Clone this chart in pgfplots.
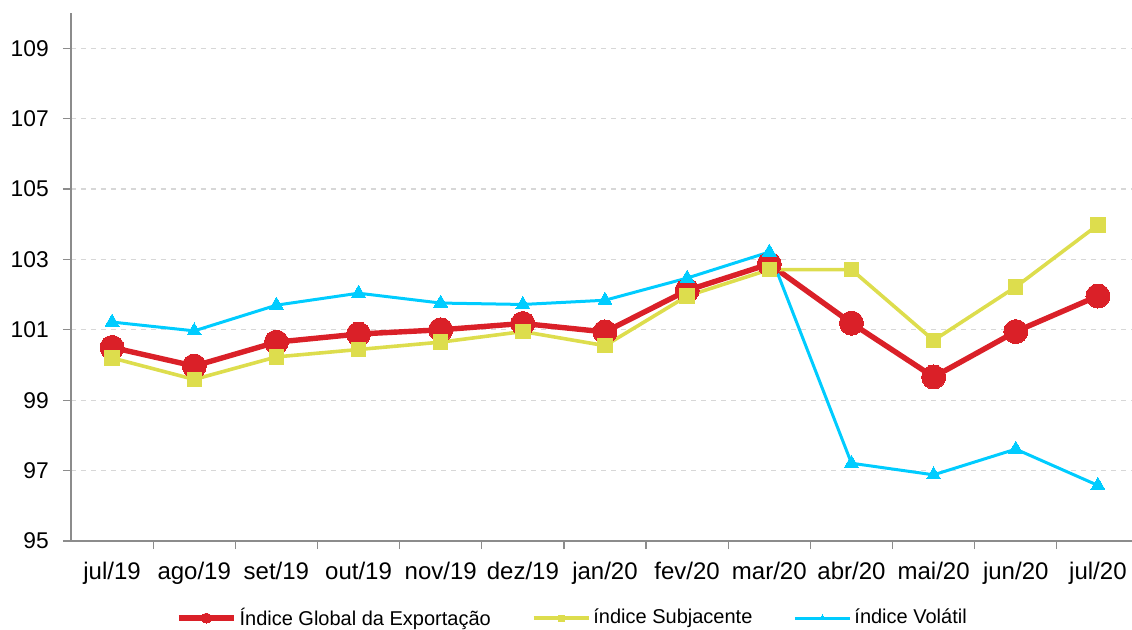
\documentclass[border=0pt]{standalone}
\usepackage{fontspec}
\setmainfont{Liberation Sans}
\usepackage{pgfplots}
\pgfplotsset{compat=1.18}
\definecolor{cred}{RGB}{218,32,40}
\definecolor{cyel}{RGB}{221,221,77}
\definecolor{cblu}{RGB}{0,204,255}
\definecolor{caxis}{RGB}{140,140,140}
\definecolor{cgrid}{RGB}{215,215,215}
\begin{document}
\begin{tikzpicture}
\path[use as bounding box] (-35.5pt,-44pt) rectangle (530.5pt,270.5pt);
\begin{axis}[
  at={(0pt,0pt)}, anchor=south west,
  scale only axis, width=534pt, height=264pt,
  xmin=-0.5, xmax=12.5, ymin=95, ymax=110,
  axis lines*=left,
  axis line style={draw=caxis, line width=0.7pt},
  tick align=outside,
  major tick length=4pt,
  tick style={draw=caxis, line width=0.6pt},
  ytick={95,97,...,109},
  ymajorgrids,
  grid style={draw=cgrid, dash pattern=on 2.5pt off 2.5pt, line width=0.6pt},
  xtick={0.5,1.5,...,11.5},
  xticklabels={},
  extra x ticks={0,1,...,12},
  extra x tick labels={jul/19,ago/19,set/19,out/19,nov/19,dez/19,jan/20,fev/20,mar/20,abr/20,mai/20,jun/20,jul/20},
  extra x tick style={major tick length=0pt, xticklabel style={yshift=-7pt, font=\fontsize{12}{14}\selectfont}},
  tick label style={font=\fontsize{11.4}{13}\selectfont, text=black},
  yticklabel style={xshift=-3.6pt},
  /pgf/number format/assume math mode=true,
  legend style={at={(0.47,-0.146)}, anchor=center, draw=none, fill=none,
    font=\fontsize{10}{12}\selectfont, legend columns=3,
    /tikz/every even column/.append style={column sep=19pt},
    nodes={inner sep=1.5pt}},
  legend image code/.code={\draw[mark repeat=2, mark phase=2, #1, /tikz/every mark/.append style={scale=0.42}] plot coordinates {(0pt,0pt) (13.75pt,0pt) (27.5pt,0pt)};},
]
\addplot[color=cred, line width=2.7pt, mark=*, mark size=6pt, mark options={fill=cred, draw=cred, line width=0pt}]
  coordinates {(0,100.50) (1,99.97) (2,100.65) (3,100.88) (4,101.00) (5,101.18) (6,100.94) (7,102.12) (8,102.87) (9,101.19) (10,99.66) (11,100.95) (12,101.96)};
\addlegendentry{Índice Global da Exportação}
\addplot[color=cyel, line width=1.8pt, mark=square*, mark size=3.6pt, mark options={fill=cyel, draw=cyel, line width=0pt}]
  coordinates {(0,100.20) (1,99.59) (2,100.23) (3,100.44) (4,100.65) (5,100.95) (6,100.55) (7,101.96) (8,102.71) (9,102.71) (10,100.70) (11,102.22) (12,103.98)};
\addlegendentry{índice Subjacente}
\addplot[color=cblu, line width=1.5pt, mark=triangle*, mark size=4pt, mark options={fill=cblu, draw=cblu, line width=0pt}]
  coordinates {(0,101.22) (1,100.97) (2,101.70) (3,102.04) (4,101.76) (5,101.72) (6,101.84) (7,102.47) (8,103.21) (9,97.21) (10,96.88) (11,97.61) (12,96.58)};
\addlegendentry{índice Volátil}
\end{axis}
\end{tikzpicture}
\end{document}
